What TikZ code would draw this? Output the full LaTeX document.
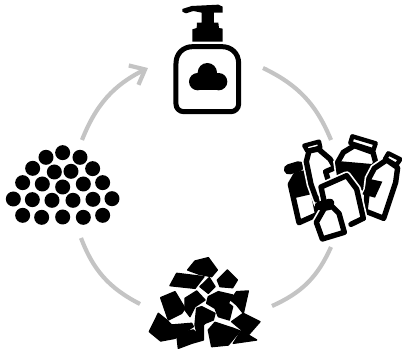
\documentclass[tikz,border=0pt]{standalone}
\usepackage{tikz}
\usetikzlibrary{arrows.meta, positioning}

\begin{document}
\begin{tikzpicture}[
    x=0.25mm, y=-0.25mm,
    cycle_arc/.style={line width=1.05mm, color=black!23},
    pellet/.style={fill=black},
    flake/.style={fill=black, draw=black, line width=0.35mm, line join=round},
    ink_line/.style={draw=black, line width=1.2mm, line join=round, line cap=round},
    bottle_shape/.style={draw=black, fill=white, line width=1.35mm, line join=round, preaction={draw=white, line width=2.2mm}}
]
\useasboundingbox (0, 0) rectangle (402, 352);

% Arcos
\coordinate (a1) at (263, 68);
\coordinate (a2) at (331, 140);
\coordinate (b1) at (331, 247);
\coordinate (b2) at (272, 306);
\coordinate (c1) at (140, 304);
\coordinate (c2) at (81, 238);
\coordinate (d1) at (82, 140);
\coordinate (d2) at (148, 68);
\draw[cycle_arc] (a1) to[bend left=21] (a2);
\draw[cycle_arc] (b1) to[bend left=21] (b2);
\draw[cycle_arc] (c1) to[bend left=21] (c2);
\draw[cycle_arc, -{Straight Barb[length=3.2mm, width=5.4mm]}] (d1) to[bend left=21] (d2);

% Dosificador
\begin{scope}[shift={(150, 0)}, scale=1/3]
\fill (97,27) -- (125,18) -- (205,14) -- (218,20) -- (218,38) -- (192,38) -- (192,68) -- (205,68)
    -- (207,84) -- (218,86) -- (218,125) -- (127,125) -- (127,88) -- (140,84) -- (141,68) -- (155,68)
    -- (155,38) -- (130,33) -- (108,40) -- (97,35) -- cycle;
\draw[ink_line, line width=1.25mm] (78,190) .. controls (78,160) and (100,140) .. (128,140) -- (216,140)
    .. controls (244,140) and (266,160) .. (266,190) -- (266,312)
    .. controls (266,325) and (255,335) .. (243,335) -- (101,335)
    .. controls (88,335) and (78,325) .. (78,312) -- cycle;
\fill (143,245) circle (26);
\fill (172,218) circle (29);
\fill (206,245) circle (26);
\fill (143,220) rectangle (206,271);
\end{scope}

% Envases
\begin{scope}[shift={(275, 125)}, scale=1/3]
% izquierda
\draw[bottle_shape] (62,150) -- (46,178) -- (72,293) -- (128,268) -- (108,170) -- (92,143) -- cycle;
\fill (62,150) -- (46,178) -- (56,220) -- (120,205) -- (108,170) -- (92,143) -- cycle;
\draw[ink_line, line width=2.6mm] (42,133) -- (72,124);
% superior izquierda
\draw[bottle_shape] (102,78) -- (130,72) -- (165,102) -- (180,128) -- (152,140) -- (170,200) -- (125,225) -- (108,178) -- (94,110) -- cycle;
\draw[ink_line, line width=1.1mm] (88,62) -- (132,50) -- (136,68) -- (97,78) -- cycle;
% superior centro
\draw[bottle_shape] (238,62) -- (294,82) -- (302,112) -- (268,190) -- (195,160) -- (188,112) -- (205,82) -- cycle;
\fill (188,108) -- (302,118) -- (268,190) -- (195,160) -- cycle;
\draw[ink_line, line width=1.1mm] (232,34) -- (302,55) -- (295,76) -- (226,54) -- cycle;
% derecha
\draw[bottle_shape] (335,105) -- (368,128) -- (362,172) -- (326,280) -- (270,258) -- (282,160) -- (298,130) -- cycle;
\fill (284,162) -- (322,170) -- (300,218) -- (262,208) -- cycle;
\draw[ink_line, line width=1.1mm] (340,85) -- (376,103) -- (364,120) -- (330,102) -- cycle;
% centro
\fill[white] (138,186) -- (215,152) -- (245,192) -- (270,282) -- (170,322) -- cycle;
\draw[draw=white, line width=2.2mm, line join=round] (148,230) -- (138,186) -- (215,152) -- (245,192) -- (265,280);
\draw[ink_line, line width=1.35mm] (148,232) -- (138,186) -- (215,152) -- (245,192) -- (265,280) -- (228,298);
% frente
\draw[bottle_shape] (148,250) -- (172,245) -- (192,265) -- (208,322) -- (142,342) -- (124,292) -- cycle;
\draw[ink_line, line width=2.2mm] (132,243) -- (165,234);
\end{scope}

% Escombros
\begin{scope}[shift={(140, 245)}, scale=1/3]
\fill[flake] (165,48) -- (205,38) -- (232,75) -- (215,95) -- (178,88) -- (143,75) -- cycle;
\fill[flake] (232,105) -- (262,75) -- (292,105) -- (278,128) -- (240,125) -- cycle;
\fill[flake] (110,85) -- (192,95) -- (165,130) -- (90,122) -- cycle;
\fill[flake] (180,125) -- (208,98) -- (225,125) -- (205,145) -- cycle;
\fill[flake] (62,158) -- (105,140) -- (135,190) -- (125,205) -- (85,225) -- cycle;
\fill[flake] (135,160) -- (170,138) -- (195,165) -- (165,185) -- (150,215) -- (135,195) -- cycle;
\fill[flake] (205,155) -- (235,140) -- (278,150) -- (265,175) -- (278,185) -- (268,225) -- (235,215) -- (225,190) -- (200,175) -- cycle;
\fill[flake] (290,140) -- (325,138) -- (310,205) -- (290,180) -- (272,165) -- cycle;
\fill[flake] (55,205) -- (80,225) -- (95,240) -- (155,235) -- (160,245) -- (105,280) -- (62,288) -- (28,260) -- cycle;
\fill[flake] (170,190) -- (185,185) -- (225,205) -- (220,225) -- (195,235) -- (170,260) -- (165,240) -- cycle;
\fill[flake] (110,265) -- (160,255) -- (170,265) -- (190,240) -- (190,285) -- (155,295) -- (115,310) -- cycle;
\fill[flake] (205,255) -- (225,232) -- (280,250) -- (300,258) -- (265,300) -- (215,305) -- cycle;
\fill[flake] (310,205) -- (360,230) -- (325,270) -- (350,285) -- (280,295) -- (305,255) -- (275,230) -- cycle;
\end{scope}

% Pellets
\begin{scope}[shift={(0, 140)}, scale=1/3]
\foreach \px/\py in {188/38, 138/52, 240/52, 98/85, 163/96, 213/94, 278/86,
    68/128, 127/132, 188/141, 250/132, 308/128,
    40/177, 97/179, 156/181, 219/181, 279/178, 336/176,
    68/226, 125/232, 188/231, 250/232, 308/226}
    \fill[pellet] (\px, \py) circle (22.5);
\end{scope}

\end{tikzpicture}
\end{document}
